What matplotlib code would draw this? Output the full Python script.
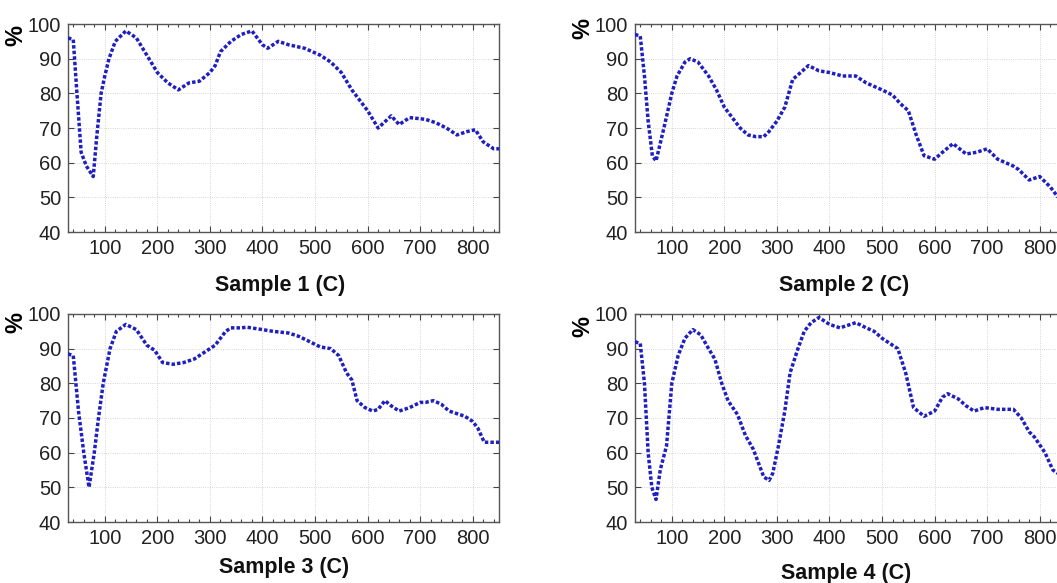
import matplotlib
matplotlib.use("Agg")
import matplotlib.pyplot as plt
from matplotlib.ticker import MultipleLocator

plt.rcParams['font.family'] = ['Liberation Sans', 'DejaVu Sans']

# temperature (C) / value (%)
s1_x = [30, 40, 47, 55, 65, 78, 85, 93, 100, 108, 120, 140, 160, 180, 200, 220, 240,
        260, 280, 300, 310, 320, 340, 360, 380, 390, 400, 410, 430, 450, 480, 510,
        530, 550, 570, 590, 600, 620, 645, 660, 680, 710, 730, 750, 770, 790, 805,
        820, 840, 850]
s1_y = [96, 95.5, 80, 63, 59, 56, 68, 80, 85, 90, 95, 98, 96, 91, 86, 83, 81,
        83, 83.5, 86, 88, 92, 95, 97, 98, 96, 94, 93, 95, 94, 93, 91,
        89, 86, 81, 77, 75, 70, 73.5, 71, 73, 72.5, 71.5, 70, 68, 69, 69.5,
        66, 64, 64]

s2_x = [30, 40, 48, 55, 63, 70, 85, 100, 110, 125, 135, 150, 170, 185, 200, 215, 230,
        245, 260, 275, 285, 300, 315, 330, 345, 360, 380, 400, 425, 450, 470, 500,
        520, 535, 550, 565, 580, 600, 615, 635, 660, 680, 700, 720, 750, 760, 780,
        800, 820, 835, 850]
s2_y = [97, 96.5, 85, 72, 62, 60.5, 70, 80, 85, 89, 90, 89, 85, 81, 76, 73, 70,
        68, 67.5, 67.5, 69, 72, 76, 84, 86, 88, 86.5, 86, 85, 85, 83, 81,
        79.5, 77, 75, 68, 62, 61, 63, 65.5, 62.5, 63, 64, 61, 59, 58, 55,
        56, 53, 50, 48]

s3_x = [30, 40, 50, 60, 70, 80, 88, 97, 110, 122, 140, 160, 180, 195, 210, 230, 250,
        270, 290, 310, 330, 340, 360, 370, 400, 420, 450, 470, 490, 510, 530, 545,
        560, 570, 580, 595, 610, 620, 633, 645, 660, 680, 700, 710, 725, 740, 755,
        775, 785, 800, 810, 822, 850]
s3_y = [88.5, 88, 72, 60, 50, 60, 70, 80, 90, 95, 97, 95.5, 91, 89.5, 86, 85.5, 86,
        87, 89, 91, 95, 96, 96, 96.2, 95.5, 95, 94.5, 93.5, 92, 90.5, 90, 88,
        83, 81, 75, 73, 72, 72.5, 75, 73.5, 72, 73, 74.5, 74.5, 75, 74, 72,
        71, 70.5, 69, 67, 63, 63]

s4_x = [30, 40, 48, 55, 62, 70, 78, 90, 100, 112, 125, 140, 155, 170, 182, 195, 207,
        225, 240, 255, 265, 275, 285, 292, 303, 315, 325, 340, 352, 365, 380, 400,
        420, 440, 450, 470, 485, 500, 515, 530, 545, 560, 580, 600, 615, 625, 645,
        660, 675, 695, 720, 750, 765, 780, 790, 810, 825, 835, 850]
s4_y = [92, 91.5, 80, 60, 50, 46.5, 55, 62, 80, 88, 93, 95.5, 94, 90, 87, 80, 75,
        71, 65, 61, 57, 53, 52, 54, 62, 72, 83, 90, 95, 97.5, 99, 97,
        96, 97, 97.5, 96, 95, 93, 91.5, 90, 83, 73, 70.5, 72, 76, 77, 75.5,
        73.5, 72, 73, 72.5, 72.5, 70, 66, 64.5, 60, 55, 54, 53.5]

labels = ["Sample 1 (C)", "Sample 2 (C)", "Sample 3 (C)", "Sample 4 (C)"]
series = [(s1_x, s1_y), (s2_x, s2_y), (s3_x, s3_y), (s4_x, s4_y)]

W, H = 1057, 583
fig = plt.figure(figsize=(W / 100, H / 100), dpi=100)

# axes boxes in pixels: left, top
boxes = [(68, 24), (635, 24), (68, 314), (635, 314)]
aw, ah = 431, 208
ylab_pos = [(-0.094, 0.947), (-0.094, 0.976), (-0.094, 0.957), (-0.094, 0.9375)]
xlab_pix = [(280, 286), (844, 285), (284, 568), (846, 573)]

for i, ((x, y), (l, t)) in enumerate(zip(series, boxes)):
    ax = fig.add_axes([l / W, 1 - (t + ah) / H, aw / W, ah / H])
    ax.plot(x, y, color='#1f1fc0', lw=2.5, linestyle=(0, (1.0, 0.6)),
            dash_capstyle='butt', zorder=3)
    ax.set_xlim(30, 850)
    ax.set_ylim(40, 100)
    ax.xaxis.set_major_locator(MultipleLocator(100))
    ax.xaxis.set_minor_locator(MultipleLocator(20))
    ax.yaxis.set_major_locator(MultipleLocator(10))
    ax.grid(True, which='major', color='#c8c8c8', lw=0.6, linestyle=':')
    ax.tick_params(which='both', direction='in', top=True, right=True,
                   labelsize=14.5, labelcolor='#222222', color='#444444', pad=5)
    ax.tick_params(which='major', length=4, width=0.8)
    ax.tick_params(which='minor', length=2.5, width=0.8)
    for sp in ax.spines.values():
        sp.set_color('#555555')
        sp.set_linewidth(1.0)
    ax.set_ylabel('%', fontsize=17, fontweight='bold', labelpad=0)
    ax.yaxis.set_label_coords(*ylab_pos[i])
    px, py = xlab_pix[i]
    fig.text(px / W, 1 - py / H, labels[i], fontsize=15.5, fontweight='bold',
             ha='center', va='center', color='#111111')

fig.savefig('out.png', dpi=100)
